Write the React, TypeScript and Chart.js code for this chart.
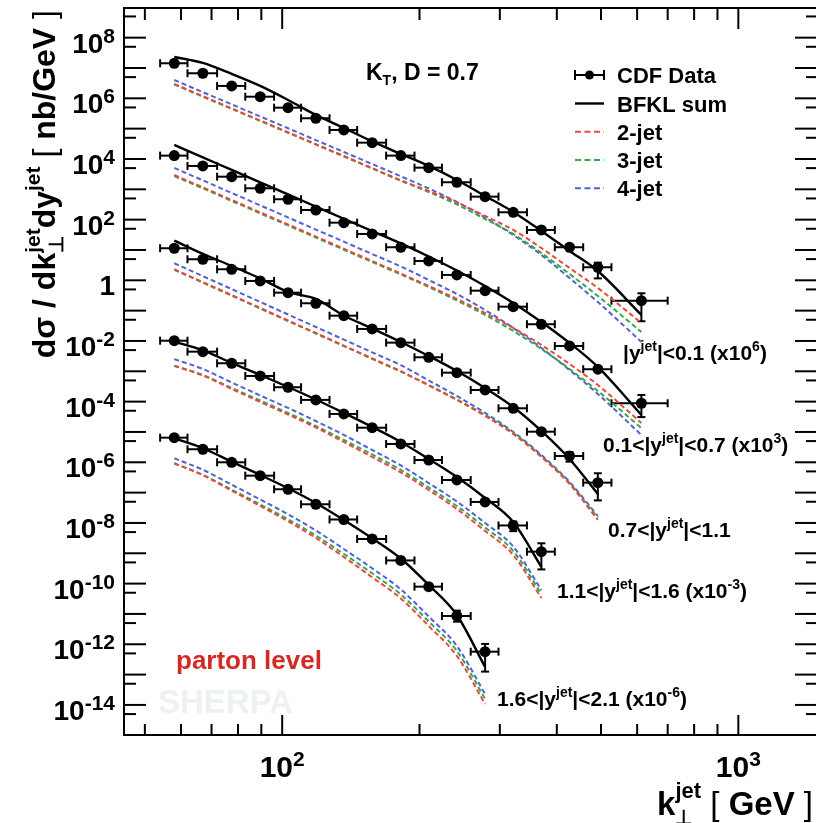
import React, { useEffect, useRef } from 'react';
import { Chart, registerables } from 'chart.js';

Chart.register(...registerables);

const FONT = '"Liberation Sans", Arial, Helvetica, sans-serif';

// ---- k_T bins (GeV) ----
const binLow = [54, 62, 72, 83, 96, 110, 127, 146, 169, 195, 224, 259, 298, 344, 396, 457, 527];
const binHigh = [62, 72, 83, 96, 110, 127, 146, 169, 195, 224, 259, 298, 344, 396, 457, 527, 700];
const binCenter = [58, 67, 77.5, 89.5, 103, 118.5, 136.5, 157.5, 182, 209.5, 241.5, 278.5, 321, 370, 426.5, 492, 613];

// ---- axis ticks ----
const yTickExps = [8, 6, 4, 2, 0, -2, -4, -6, -8, -10, -12, -14];
const xTickValues = [100, 1000];
const xMinorTicks = [50, 60, 70, 80, 90, 200, 300, 400, 500, 600, 700, 800, 900];

// ---- |y|<0.1 (x10^6) ----
const cdf1 = [1.43e7, 6.7e6, 2.56e6, 1.13e6, 4.92e5, 2.2e5, 9.06e4, 3.45e4, 1.29e4, 5.17e3, 1.71e3, 573, 175, 45.7, 12.3, 2.69, 0.213];
const cdf1ErrHi = [0.08, 0.08, 0.08, 0.08, 0.08, 0.08, 0.08, 0.09, 0.1, 0.1, 0.11, 0.12, 0.13, 0.15, 0.2, 0.42, 0.75];
const cdf1ErrLo = [0.08, 0.08, 0.08, 0.08, 0.08, 0.08, 0.08, 0.09, 0.1, 0.1, 0.11, 0.12, 0.13, 0.15, 0.2, 0.57, 0.79];
const bfkl1 = [2.31e7, 1.465e7, 6.36e6, 2.56e6, 8.83e5, 2.83e5, 1.054e5, 3.78e4, 1.464e4, 5.89e3, 2.03e3, 603, 179, 42.3, 9.28, 2.03, 0.072];
const jet2a = [2.97e6, 1.178e6, 4.67e5, 1.862e5, 7.6e4, 3.1e4, 1.258e4, 5.02e3, 1.988e3, 882, 368, 132, 45.7, 11.6, 2.55, 0.559, 0.0392];
const jet3a = [2.86e6, 1.134e6, 4.49e5, 1.793e5, 7.32e4, 2.99e4, 1.211e4, 4.83e3, 1.913e3, 818, 317, 105, 33.7, 7.96, 1.62, 0.305, 0.0198];
const jet4a = [4.03e6, 1.596e6, 6.32e5, 2.52e5, 1.03e5, 4.2e4, 1.704e4, 6.8e3, 2.69e3, 1.067e3, 383, 118, 31.2, 6.85, 1.19, 0.193, 9.27e-3];

// ---- 0.1<|y|<0.7 (x10^3) ----
const cdf2 = [1.29e4, 5.89e3, 2.61e3, 1.08e3, 470, 208, 79.5, 33.7, 12.3, 4.34, 1.5, 0.455, 0.135, 0.0356, 6.84e-3, 1.17e-3, 8.83e-5];
const cdf2ErrHi = [0.08, 0.08, 0.08, 0.08, 0.08, 0.08, 0.08, 0.08, 0.08, 0.1, 0.11, 0.12, 0.14, 0.17, 0.22, 0.3, 0.88];
const cdf2ErrLo = [0.08, 0.08, 0.08, 0.08, 0.08, 0.08, 0.08, 0.08, 0.08, 0.1, 0.11, 0.12, 0.14, 0.17, 0.22, 0.3, 0.65];
const bfkl2 = [2.9e4, 1.131e4, 4.34e3, 1.695e3, 676, 270, 107, 42.0, 16.4, 6.11, 2.11, 0.651, 0.179, 0.0423, 8.59e-3, 1.389e-3, 3.63e-5];
const jet2b = [2.97e3, 1.159e3, 445, 174, 69.3, 27.7, 11.0, 4.31, 1.68, 0.651, 0.2425, 0.0838, 0.0268, 7.38e-3, 1.744e-3, 3.54e-4, 1.98e-5];
const jet3b = [2.75e3, 1.075e3, 413, 161, 64.3, 25.7, 10.2, 3.99, 1.557, 0.603, 0.2163, 0.072, 0.02136, 5.45e-3, 1.193e-3, 2.25e-4, 1.353e-5];
const jet4b = [5.06e3, 1.972e3, 758, 296, 118, 47.1, 18.8, 7.33, 2.86, 1.026, 0.354, 0.1052, 0.0268, 5.88e-3, 1.106e-3, 1.789e-4, 7.96e-6];

// ---- 0.7<|y|<1.1 ----
const cdf3 = [11.4, 4.94, 2.31, 0.951, 0.391, 0.175, 0.0682, 0.0249, 8.8e-3, 2.9e-3, 9.0e-4, 2.42e-4, 6.04e-5, 1.02e-5, 1.61e-6, 2.13e-7];
const cdf3ErrHi = [0.08, 0.08, 0.08, 0.08, 0.08, 0.08, 0.08, 0.08, 0.1, 0.1, 0.12, 0.14, 0.18, 0.25, 0.35, 1.04];
const cdf3ErrLo = [0.08, 0.08, 0.08, 0.08, 0.08, 0.08, 0.08, 0.08, 0.1, 0.1, 0.12, 0.14, 0.18, 0.25, 0.35, 0.74];
const bfkl3 = [20.3, 7.39, 2.97, 1.15, 0.4125, 0.2425, 0.0693, 0.0258, 9.27e-3, 3.2e-3, 1.025e-3, 2.82e-4, 6.66e-5, 1.078e-5, 1.286e-6, 9.02e-8];
const jet2c = [2.31, 0.868, 0.326, 0.1224, 0.0474, 0.01835, 7.05e-3, 2.67e-3, 1.01e-3, 3.41e-4, 1.134e-4, 3.37e-5, 8.58e-6, 1.497e-6, 1.928e-7, 1.253e-8];
const jet3c = [2.22, 0.834, 0.313, 0.1175, 0.0455, 0.0176, 6.77e-3, 2.56e-3, 9.7e-4, 3.54e-4, 1.178e-4, 3.63e-5, 9.26e-6, 1.615e-6, 2.08e-7, 1.459e-8];
const jet4c = [3.65, 1.369, 0.514, 0.193, 0.0747, 0.02894, 0.01112, 4.21e-3, 1.592e-3, 4.98e-4, 1.536e-4, 4.23e-5, 9.99e-6, 1.742e-6, 2.24e-7, 1.698e-8];

// ---- 1.1<|y|<1.6 (x10^-3) ----
const cdf4 = [0.0102, 4.44e-3, 1.84e-3, 7.02e-4, 2.98e-4, 1.14e-4, 3.92e-5, 1.38e-5, 4.02e-6, 1.19e-6, 2.61e-7, 4.92e-8, 8.26e-9, 1.13e-9];
const cdf4ErrHi = [0.08, 0.08, 0.08, 0.08, 0.08, 0.08, 0.08, 0.1, 0.12, 0.14, 0.18, 0.25, 0.35, 0.89];
const cdf4ErrLo = [0.08, 0.08, 0.08, 0.08, 0.08, 0.08, 0.08, 0.1, 0.12, 0.14, 0.18, 0.25, 0.35, 0.74];
const bfkl4 = [9.48e-3, 4.86e-3, 1.881e-3, 7.57e-4, 3.04e-4, 1.178e-4, 4.23e-5, 1.46e-5, 4.67e-6, 1.286e-6, 3.28e-7, 6.66e-8, 1.076e-8, 3.54e-10];
const jet2d = [1.533e-3, 7.29e-4, 2.62e-4, 9.74e-5, 3.77e-5, 1.406e-5, 4.67e-6, 1.497e-6, 4.62e-7, 1.223e-7, 2.89e-8, 5.44e-9, 8.79e-10, 3.36e-11];
const jet3d = [1.5e-3, 7.57e-4, 2.82e-4, 1.092e-4, 4.23e-5, 1.576e-5, 5.44e-6, 1.81e-6, 5.58e-7, 1.478e-7, 3.63e-8, 7.09e-9, 1.191e-9, 4.55e-11];
const jet4d = [2.51e-3, 1.193e-3, 4.28e-4, 1.596e-4, 6.18e-5, 2.3e-5, 7.96e-6, 2.55e-6, 7.85e-7, 2.08e-7, 5.1e-8, 9.98e-9, 1.676e-9, 6.17e-11];

// ---- 1.6<|y|<2.1 (x10^-6) ----
const cdf5 = [6.48e-6, 2.69e-6, 1.0e-6, 3.62e-7, 1.29e-7, 4.13e-8, 1.3e-8, 2.96e-9, 5.8e-10, 7.93e-11, 8.57e-12, 5.7e-13];
const cdf5ErrHi = [0.08, 0.08, 0.08, 0.08, 0.08, 0.1, 0.12, 0.15, 0.2, 0.25, 0.5, 0.8];
const cdf5ErrLo = [0.08, 0.08, 0.08, 0.08, 0.08, 0.1, 0.12, 0.15, 0.2, 0.25, 0.35, 0.78];
const bfkl5 = [6.19e-6, 2.9e-6, 1.048e-6, 3.82e-7, 1.391e-7, 4.56e-8, 1.253e-8, 3.12e-9, 6.74e-10, 9.02e-11, 9.24e-12, 1.783e-13];
const jet2e = [9.28e-7, 3.73e-7, 1.159e-7, 3.63e-8, 1.136e-8, 3.2e-9, 7.55e-10, 1.618e-10, 3.24e-11, 4.01e-12, 4.11e-13, 1.075e-14];
const jet3e = [9.1e-7, 3.88e-7, 1.251e-7, 4.06e-8, 1.322e-8, 3.86e-9, 9.49e-10, 2.19e-10, 4.38e-11, 5.64e-12, 6.01e-13, 1.572e-14];
const jet4e = [1.356e-6, 5.66e-7, 1.827e-7, 5.94e-8, 1.932e-8, 5.65e-9, 1.386e-9, 3.2e-10, 6.41e-11, 8.25e-12, 8.78e-13, 2.3e-14];

// ---- rapidity bin labels ----
const rangeLow = ['', '0.1', '0.7', '1.1', '1.6'];
const rangeHigh = ['0.1', '0.7', '1.1', '1.6', '2.1'];
const scaleExp = ['6', '3', '', '-3', '-6'];

const legendLabels = ['CDF Data', 'BFKL sum', '2-jet', '3-jet', '4-jet'];

const RED = '#e8493d';
const GREEN = '#34a84a';
const BLUE = '#4f63d2';

const SUP: Record<string, string> = { '-': '\u207B', '0': '\u2070', '1': '\u00B9', '2': '\u00B2', '3': '\u00B3', '4': '\u2074', '5': '\u2075', '6': '\u2076', '7': '\u2077', '8': '\u2078', '9': '\u2079' };
const sup = (s: string) => s.split('').map((c) => SUP[c] ?? c).join('');
const expOf = (v: number) => Math.round(Math.log10(v));
const powLabel = (v: number) => {
  const e = expOf(v);
  return e === 0 ? '1' : '10' + sup(String(e));
};

type Seg = { t: string; size: number; dy?: number; bold?: boolean; family?: string; stack?: Seg };
const segFont = (s: Seg) => `${s.bold === false ? 'normal' : 'bold'} ${s.size}px ${s.family ?? FONT}`;
function segsWidth(ctx: CanvasRenderingContext2D, segs: Seg[]) {
  let w = 0;
  for (const s of segs) {
    ctx.font = segFont(s);
    let sw = ctx.measureText(s.t).width;
    if (s.stack) {
      ctx.font = segFont(s.stack);
      sw = Math.max(sw, ctx.measureText(s.stack.t).width);
    }
    w += sw;
  }
  return w;
}
function drawSegs(ctx: CanvasRenderingContext2D, x: number, y: number, segs: Seg[]) {
  let cx = x;
  for (const s of segs) {
    ctx.font = segFont(s);
    ctx.fillText(s.t, cx, y + (s.dy ?? 0));
    let sw = ctx.measureText(s.t).width;
    if (s.stack) {
      ctx.font = segFont(s.stack);
      ctx.fillText(s.stack.t, cx, y + (s.stack.dy ?? 0));
      sw = Math.max(sw, ctx.measureText(s.stack.t).width);
    }
    cx += sw;
  }
}
const powSegs = (e: number, base: number, expSize: number, rise: number): Seg[] =>
  e === 0 ? [{ t: '1', size: base }] : [{ t: '10', size: base }, { t: String(e), size: expSize, dy: -rise }];

const series = [
  { cdf: cdf1, hi: cdf1ErrHi, lo: cdf1ErrLo, bfkl: bfkl1, j2: jet2a, j3: jet3a, j4: jet4a },
  { cdf: cdf2, hi: cdf2ErrHi, lo: cdf2ErrLo, bfkl: bfkl2, j2: jet2b, j3: jet3b, j4: jet4b },
  { cdf: cdf3, hi: cdf3ErrHi, lo: cdf3ErrLo, bfkl: bfkl3, j2: jet2c, j3: jet3c, j4: jet4c },
  { cdf: cdf4, hi: cdf4ErrHi, lo: cdf4ErrLo, bfkl: bfkl4, j2: jet2d, j3: jet3d, j4: jet4d },
  { cdf: cdf5, hi: cdf5ErrHi, lo: cdf5ErrLo, bfkl: bfkl5, j2: jet2e, j3: jet3e, j4: jet4e },
];

const toXY = (arr: number[]) => arr.map((y, i) => ({ x: binCenter[i], y }));

function buildDatasets() {
  const ds: any[] = [];
  series.forEach((s) => {
    const dashed = [
      [s.j2, RED],
      [s.j3, GREEN],
      [s.j4, BLUE],
    ] as [number[], string][];
    dashed.forEach(([arr, col]) =>
      ds.push({
        type: 'line',
        data: toXY(arr),
        borderColor: col,
        borderWidth: 2,
        borderDash: [5, 3],
        pointRadius: 0,
        fill: false,
        cubicInterpolationMode: 'monotone',
        order: 3,
      })
    );
    ds.push({
      type: 'line',
      data: toXY(s.bfkl),
      borderColor: '#000',
      borderWidth: 2.4,
      pointRadius: 0,
      fill: false,
      cubicInterpolationMode: 'monotone',
      order: 2,
    });
    ds.push({
      type: 'line',
      data: toXY(s.cdf),
      showLine: false,
      pointRadius: 5.5,
      pointBackgroundColor: '#000',
      pointBorderColor: '#000',
      pointBorderWidth: 0,
      errHi: s.hi,
      errLo: s.lo,
      order: 1,
    });
  });
  return ds;
}

const errorBarPlugin = {
  id: 'errorBars',
  beforeDatasetsDraw(chart: any) {
    const { ctx, scales, chartArea } = chart;
    const xs = scales.x;
    const ys = scales.y;
    ctx.save();
    ctx.beginPath();
    ctx.rect(chartArea.left, chartArea.top, chartArea.right - chartArea.left, chartArea.bottom - chartArea.top);
    ctx.clip();
    ctx.strokeStyle = '#000';
    ctx.lineWidth = 2;
    const seg = (a: number, b: number, c: number, d: number) => {
      ctx.beginPath();
      ctx.moveTo(a, b);
      ctx.lineTo(c, d);
      ctx.stroke();
    };
    chart.data.datasets.forEach((d: any) => {
      if (!d.errHi) return;
      d.data.forEach((p: any, i: number) => {
        const px = xs.getPixelForValue(p.x);
        const py = ys.getPixelForValue(p.y);
        const x0 = xs.getPixelForValue(binLow[i]);
        const x1 = xs.getPixelForValue(binHigh[i]);
        seg(x0, py, x1, py);
        seg(x0, py - 4, x0, py + 4);
        seg(x1, py - 4, x1, py + 4);
        const yt = ys.getPixelForValue(p.y * (1 + d.errHi[i]));
        const yb = ys.getPixelForValue(p.y * (1 - d.errLo[i]));
        if (py - yt > 5.5 || yb - py > 5.5) {
          seg(px, yt, px, yb);
          seg(px - 4, yt, px + 4, yt);
          seg(px - 4, yb, px + 4, yb);
        }
      });
    });
    ctx.restore();
  },
};

const decorPlugin = {
  id: 'decor',
  afterDraw(chart: any) {
    const { ctx, scales, chartArea } = chart;
    const xs = scales.x;
    const ys = scales.y;
    const { left, right, top, bottom } = chartArea;
    ctx.save();
    ctx.strokeStyle = '#000';
    ctx.lineWidth = 2;
    const seg = (a: number, b: number, c: number, d: number) => {
      ctx.beginPath();
      ctx.moveTo(a, b);
      ctx.lineTo(c, d);
      ctx.stroke();
    };
    // frame (right edge sits at the canvas border)
    ctx.strokeRect(left, top, right + 2 - left, bottom - top);
    // y ticks (inside)
    for (let e = -16; e <= 9; e++) {
      const vMaj = Math.pow(10, e);
      const vMin = 5 * Math.pow(10, e);
      if (vMaj >= ys.min && vMaj <= ys.max) {
        const p = ys.getPixelForValue(vMaj);
        seg(left, p, left + 22, p);
        seg(right, p, right - 21, p);
      }
      if (vMin >= ys.min && vMin <= ys.max) {
        const p = ys.getPixelForValue(vMin);
        seg(left, p, left + 12, p);
        seg(right, p, right - 10, p);
      }
    }
    // x ticks (inside)
    xTickValues.forEach((v) => {
      const p = xs.getPixelForValue(v);
      seg(p, bottom, p, bottom - 20);
      seg(p, top, p, top + 21);
    });
    xMinorTicks.forEach((v) => {
      const p = xs.getPixelForValue(v);
      seg(p, bottom, p, bottom - 11);
      seg(p, top, p, top + 12);
    });

    ctx.fillStyle = '#000';
    ctx.textAlign = 'left';
    ctx.textBaseline = 'alphabetic';

    // tick labels (positions from the scales' ticks)
    ys.ticks.forEach((t: any) => {
      const p = ys.getPixelForValue(t.value);
      const segs = powSegs(expOf(t.value), 28, 21, 10);
      drawSegs(ctx, 115 - segsWidth(ctx, segs), p + 15, segs);
    });
    xs.ticks.forEach((t: any) => {
      const p = xs.getPixelForValue(t.value);
      const segs = powSegs(expOf(t.value), 30, 21, 11);
      drawSegs(ctx, p - segsWidth(ctx, segs) / 2, 777, segs);
    });

    // y axis title (rotated)
    const ySegs: Seg[] = [
      { t: 'd\u03C3 / dk', size: 32 },
      { t: 'jet', size: 21, dy: -15, stack: { t: '\u22A5', size: 20, dy: 8 } },
      { t: 'dy', size: 32 },
      { t: 'jet', size: 21, dy: -15 },
      { t: ' [ ', size: 32, bold: false },
      { t: 'nb/GeV', size: 32 },
      { t: ' ]', size: 32, bold: false },
    ];
    ctx.save();
    ctx.translate(55, 10);
    ctx.rotate(-Math.PI / 2);
    drawSegs(ctx, -segsWidth(ctx, ySegs), 0, ySegs);
    ctx.restore();

    // x axis title
    const xSegs: Seg[] = [
      { t: 'k', size: 33 },
      { t: 'jet', size: 22, dy: -17, stack: { t: '\u22A5', size: 20, dy: 9 } },
      { t: ' [ ', size: 33, bold: false },
      { t: 'GeV', size: 33 },
      { t: ' ]', size: 33, bold: false },
    ];
    drawSegs(ctx, 813 - segsWidth(ctx, xSegs), 815, xSegs);

    // algorithm label
    drawSegs(ctx, 366, 80, [
      { t: 'K', size: 23 },
      { t: 'T', size: 14, dy: 5 },
      { t: ', D = 0.7', size: 23 },
    ]);

    // legend
    const lx0 = 575;
    const lx1 = 604;
    const rowY = [75, 103.5, 131.8, 160, 188.3];
    seg(lx0, rowY[0], lx1, rowY[0]);
    seg(lx0, rowY[0] - 5, lx0, rowY[0] + 5);
    seg(lx1, rowY[0] - 5, lx1, rowY[0] + 5);
    ctx.beginPath();
    ctx.arc((lx0 + lx1) / 2, rowY[0], 4.5, 0, Math.PI * 2);
    ctx.fill();
    ctx.lineWidth = 2.4;
    seg(lx0, rowY[1], lx1, rowY[1]);
    [RED, GREEN, BLUE].forEach((c, i) => {
      ctx.strokeStyle = c;
      ctx.lineWidth = 2;
      ctx.setLineDash([6, 3.5]);
      seg(lx0, rowY[i + 2], lx1, rowY[i + 2]);
    });
    ctx.setLineDash([]);
    ctx.strokeStyle = '#000';
    ctx.font = `bold 22px ${FONT}`;
    legendLabels.forEach((t, i) => ctx.fillText(t, 617, rowY[i] + 8));

    // rapidity labels
    const labelPos = [
      [623, 360],
      [603, 452],
      [608, 537],
      [557, 598],
      [497, 706],
    ];
    rangeHigh.forEach((hi, i) => {
      const segs: Seg[] = [
        { t: (rangeLow[i] ? rangeLow[i] + '<' : '') + '|y', size: 21 },
        { t: 'jet', size: 14, dy: -9 },
        { t: '|<' + hi + (scaleExp[i] ? ' (x10' : ''), size: 21 },
      ];
      if (scaleExp[i]) {
        segs.push({ t: scaleExp[i], size: 14, dy: -9 });
        segs.push({ t: ')', size: 21 });
      }
      drawSegs(ctx, labelPos[i][0], labelPos[i][1], segs);
    });

    // parton level
    ctx.fillStyle = '#d42a26';
    ctx.font = `bold 26px ${FONT}`;
    ctx.fillText('parton level', 176, 669);
    // SHERPA watermark
    ctx.fillStyle = '#eef1f4';
    ctx.font = `bold 33px ${FONT}`;
    ctx.fillText('SHERPA', 158, 713);

    ctx.restore();
  },
};

export default function App() {
  const ref = useRef<HTMLCanvasElement>(null);
  useEffect(() => {
    if (!ref.current) return;
    const chart = new Chart(ref.current, {
      type: 'line',
      data: { datasets: buildDatasets() },
      options: {
        responsive: false,
        animation: false,
        events: [],
        layout: { autoPadding: false, padding: { top: 8, left: 0, right: 0, bottom: 0 } },
        plugins: { legend: { display: false }, tooltip: { enabled: false } },
        scales: {
          x: {
            type: 'logarithmic',
            min: 45,
            max: 1480,
            afterBuildTicks: (s: any) => {
              s.ticks = xTickValues.map((v) => ({ value: v }));
            },
            afterFit: (s: any) => {
              s.height = 88;
              s.paddingLeft = 0;
              s.paddingRight = 0;
            },
            ticks: {
              display: false,
              callback: (v: any) => powLabel(Number(v)),
              autoSkip: false,
            },
            grid: { display: false, drawTicks: false },
            border: { display: false },
          },
          y: {
            type: 'logarithmic',
            min: 1.02e-15,
            max: 9.5e8,
            afterBuildTicks: (s: any) => {
              s.ticks = yTickExps.map((e) => ({ value: Math.pow(10, e) }));
            },
            afterFit: (s: any) => {
              s.width = 124;
              s.paddingTop = 0;
              s.paddingBottom = 0;
            },
            ticks: {
              display: false,
              callback: (v: any) => powLabel(Number(v)),
              autoSkip: false,
            },
            grid: { display: false, drawTicks: false },
            border: { display: false },
          },
        },
      } as any,
      plugins: [errorBarPlugin, decorPlugin],
    });
    return () => chart.destroy();
  }, []);
  return (
    <div style={{ position: 'absolute', left: 0, top: 0, width: 816, height: 823, background: '#fff' }}>
      <canvas ref={ref} width={816} height={823} style={{ display: 'block' }} />
    </div>
  );
}
